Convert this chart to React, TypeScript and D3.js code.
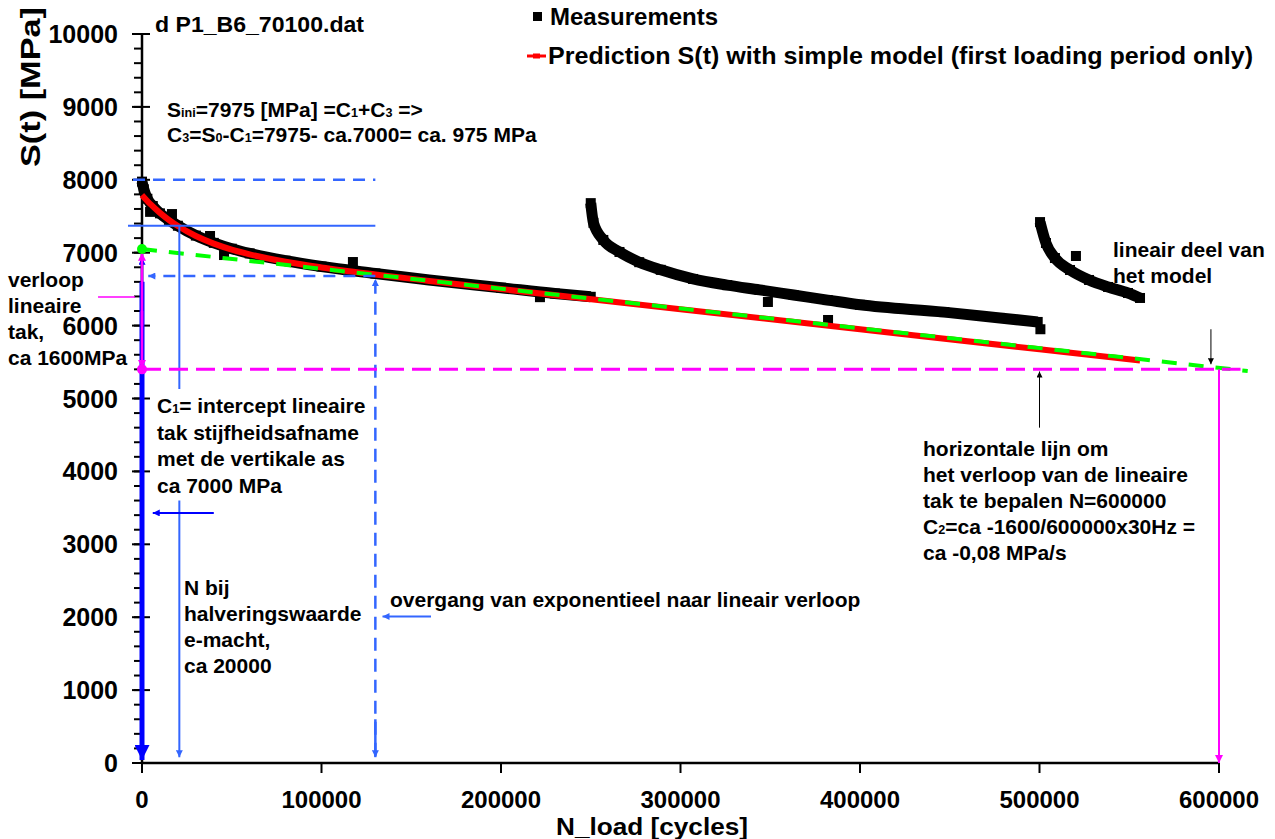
import React from 'react';
import * as d3 from 'd3';

const W = 1275;
const H = 839;
const FONT = '"Liberation Sans", Arial, sans-serif';

// measurements, first loading period (N_load, S)
const period1N = [0, 1000, 3000, 6000, 10000, 15000, 20000, 30000, 40000, 50000, 60000, 80000, 100000, 130000, 160000, 200000, 230000, 250000];
const period1S = [7975, 7870, 7740, 7640, 7540, 7450, 7370, 7235, 7135, 7055, 6990, 6890, 6810, 6715, 6625, 6520, 6440, 6395];

// second loading period
const period2N = [250000, 251500, 257000, 266000, 277000, 289000, 307000, 326000, 344000, 363000, 382000, 400000, 447000, 478000, 499000];
const period2S = [7680, 7410, 7175, 7010, 6870, 6765, 6640, 6555, 6490, 6420, 6350, 6285, 6185, 6105, 6050];

// third loading period
const period3N = [500300, 503600, 508600, 517000, 527600, 538200, 549300, 556000];
const period3S = [7420, 7133, 6927, 6763, 6626, 6530, 6447, 6379];

// loose measurement points off the main band
const outlierN = [4500, 16700, 37900, 45700, 117500, 221700, 348700, 382200, 500500, 520300];
const outlierS = [7560, 7530, 7229, 6968, 6872, 6390, 6324, 6077, 5950, 6955];

// prediction with simple model (first loading period only)
const modelN = [0, 5000, 10000, 15000, 20000, 30000, 40000, 50000, 60000, 80000, 100000, 130000, 160000, 200000, 300000, 400000, 500000, 556000];
const modelS = [7790, 7658, 7546, 7449, 7365, 7229, 7125, 7043, 6978, 6876, 6798, 6701, 6613, 6501, 6225, 5950, 5675, 5520];

// linear part of the model
const linearN = [0, 616000];
const linearS = [7050, 5377];

const xTickValues = [0, 100000, 200000, 300000, 400000, 500000, 600000];
const xTickLabels = ['0', '100000', '200000', '300000', '400000', '500000', '600000'];
const yTickValues = [0, 1000, 2000, 3000, 4000, 5000, 6000, 7000, 8000, 9000, 10000];
const yTickLabels = ['0', '1000', '2000', '3000', '4000', '5000', '6000', '7000', '8000', '9000', '10000'];
const yMinorTicks = d3.range(0, 10001, 200);

const x = d3.scaleLinear().domain([0, 600000]).range([142, 1219]);
const y = d3.scaleLinear().domain([0, 10000]).range([763, 34]);

const zip = (a: number[], b: number[]) => a.map((v, i) => [v, b[i]] as [number, number]);

const curve = d3.line<[number, number]>()
    .x(d => x(d[0]))
    .y(d => y(d[1]))
    .curve(d3.curveMonotoneX);

type Seg = string | string[];

function Rich({ segs, tx, ty, size = 21 }: { segs: Seg[], tx: number, ty: number, size?: number }) {
    return (
        <text x={tx} y={ty} fontSize={size} fontWeight="bold" fontFamily={FONT} style={{ whiteSpace: 'pre' }}>
            {segs.map((s, i) => typeof s === 'string'
                ? <tspan key={i}>{s}</tspan>
                : <tspan key={i} fontSize={size * 0.6}>{s[0]}</tspan>)}
        </text>
    );
}

function Arrow({ n1, s1, n2, s2, color, width, marker, dash }:
    { n1: number, s1: number, n2: number, s2: number, color: string, width: number, marker?: string, dash?: string }) {
    return (
        <line x1={x(n1)} y1={y(s1)} x2={x(n2)} y2={y(s2)}
            stroke={color} strokeWidth={width} strokeDasharray={dash}
            markerEnd={marker ? `url(#${marker})` : undefined} />
    );
}

function Marker({ id, color, len, wid }: { id: string, color: string, len: number, wid: number }) {
    return (
        <marker id={id} viewBox="0 0 10 10" refX="10" refY="5" markerWidth={len} markerHeight={wid}
            markerUnits="userSpaceOnUse" orient="auto">
            <path d="M0,0 L10,5 L0,10 z" fill={color} />
        </marker>
    );
}

export default function App() {
    const periods = [zip(period1N, period1S), zip(period2N, period2S), zip(period3N, period3S)];
    const outliers = zip(outlierN, outlierS);
    const model = zip(modelN, modelS);
    const linear = zip(linearN, linearS);

    const BLUE = '#3366FF';
    const DBLUE = '#0000FF';
    const MAG = '#FF00FF';

    return (
        <svg width={W} height={H} style={{ position: 'absolute', left: 0, top: 0, background: '#fff' }}>
            <defs>
                <Marker id="bigBlue" color={DBLUE} len={18} wid={15} />
                <Marker id="blue" color={BLUE} len={9} wid={7} />
                <Marker id="dblue" color={DBLUE} len={9} wid={7} />
                <Marker id="mag" color={MAG} len={10} wid={8} />
                <Marker id="blk" color="#000" len={9} wid={6} />
            </defs>

            {/* axes */}
            <line x1={x(0)} y1={y(10000)} x2={x(0)} y2={y(0)} stroke="#000" strokeWidth={2.5} />
            <line x1={x(0)} y1={y(0)} x2={x(600000)} y2={y(0)} stroke="#000" strokeWidth={2.5} />
            {yMinorTicks.map(v => (
                <line key={'m' + v} x1={x(0) - 8} x2={x(0)} y1={y(v)} y2={y(v)} stroke="#000" strokeWidth={2} />
            ))}
            {yTickValues.map((v, i) => (
                <g key={'y' + v}>
                    <line x1={x(0) - 10} x2={x(0) + 8} y1={y(v)} y2={y(v)} stroke="#000" strokeWidth={2} />
                    <text x={118} y={y(v) + 9} textAnchor="end" fontSize={25} fontWeight="bold" fontFamily={FONT}>{yTickLabels[i]}</text>
                </g>
            ))}
            {xTickValues.map((v, i) => (
                <g key={'x' + v}>
                    <line x1={x(v)} x2={x(v)} y1={y(0)} y2={y(0) + 10} stroke="#000" strokeWidth={2} />
                    <text x={x(v)} y={808} textAnchor="middle" fontSize={24} fontWeight="bold" fontFamily={FONT}>{xTickLabels[i]}</text>
                </g>
            ))}
            <text x={556} y={835} fontSize={23} fontWeight="bold" fontFamily={FONT} textLength={192} lengthAdjust="spacingAndGlyphs">N_load [cycles]</text>
            <text transform="translate(40,87) rotate(-90)" textAnchor="middle" fontSize={28} fontWeight="bold" fontFamily={FONT}
                textLength={160} lengthAdjust="spacingAndGlyphs">S(t) [MPa]</text>
            <text x={155} y={32} fontSize={22} fontWeight="bold" fontFamily={FONT} textLength={209} lengthAdjust="spacingAndGlyphs">d P1_B6_70100.dat</text>

            {/* legend */}
            <rect x={533} y={12} width={9} height={9} fill="#000" />
            <text x={550} y={25} fontSize={24} fontWeight="bold" fontFamily={FONT}>Measurements</text>
            <line x1={527} x2={546} y1={56} y2={56} stroke="#FF0000" strokeWidth={3} />
            <rect x={533} y={53.5} width={7} height={5} fill="#FF0000" />
            <text x={548} y={64} fontSize={24} fontWeight="bold" fontFamily={FONT} textLength={705} lengthAdjust="spacingAndGlyphs">Prediction S(t) with simple model (first loading period only)</text>

            {/* measurements */}
            {periods.map((p, i) => (
                <g key={'p' + i}>
                    <path d={curve(p) || ''} fill="none" stroke="#000" strokeWidth={11} />
                    {p.map((d, j) => (
                        <rect key={j} x={x(d[0]) - 5} y={y(d[1]) - 5} width={10} height={10} fill="#000" />
                    ))}
                </g>
            ))}
            {outliers.map((d, j) => (
                <rect key={'o' + j} x={x(d[0]) - 5} y={y(d[1]) - 5} width={10} height={10} fill="#000" />
            ))}

            {/* model */}
            <path d={curve(model) || ''} fill="none" stroke="#FF0000" strokeWidth={6} />
            <path d={curve(linear) || ''} fill="none" stroke="#00FF00" strokeWidth={4} strokeDasharray="15,12" />

            {/* annotation lines */}
            <Arrow n1={-5000} s1={8000} n2={130000} s2={8000} color={BLUE} width={2.5} dash="12,8" />
            <Arrow n1={-7800} s1={7370} n2={130000} s2={7370} color={BLUE} width={2} />
            <Arrow n1={130000} s1={6680} n2={3500} s2={6680} color={BLUE} width={2.5} dash="12,8" marker="blue" />
            <Arrow n1={130000} s1={100} n2={130000} s2={6640} color={BLUE} width={2.5} dash="13,8" marker="blue" />
            <Arrow n1={130000} s1={600} n2={130000} s2={80} color={BLUE} width={2.5} marker="blue" />
            <Arrow n1={20800} s1={7370} n2={20800} s2={5130} color={BLUE} width={2} />
            <Arrow n1={20800} s1={3600} n2={20800} s2={80} color={BLUE} width={2} marker="blue" />
            <Arrow n1={40000} s1={3430} n2={6000} s2={3430} color={DBLUE} width={2} marker="dblue" />
            <Arrow n1={161000} s1={2010} n2={134000} s2={2010} color={BLUE} width={2} marker="blue" />

            <Arrow n1={0} s1={6600} n2={0} s2={40} color={DBLUE} width={5} marker="bigBlue" />
            <Arrow n1={0} s1={6500} n2={0} s2={6930} color={DBLUE} width={2.5} marker="dblue" />
            <Arrow n1={0} s1={5400} n2={612000} s2={5400} color={MAG} width={3} dash="19,8" />
            <Arrow n1={0} s1={6000} n2={0} s2={7000} color={MAG} width={2.5} marker="mag" />
            <Arrow n1={0} s1={6200} n2={0} s2={5420} color={MAG} width={2.5} marker="mag" />
            <Arrow n1={600000} s1={5400} n2={600000} s2={0} color={MAG} width={2} marker="mag" />
            <Arrow n1={-24500} s1={6392} n2={-3900} s2={6392} color={MAG} width={1.5} />
            <circle cx={x(0)} cy={y(7050)} r={5} fill="#00FF00" />
            <circle cx={x(0)} cy={y(5400)} r={5} fill={MAG} />

            <Arrow n1={595500} s1={5950} n2={595500} s2={5470} color="#000" width={1} marker="blk" />
            <Arrow n1={500000} s1={4600} n2={500000} s2={5370} color="#000" width={1} marker="blk" />

            {/* annotation texts */}
            <Rich tx={167} ty={117} segs={['S', ['ini'], '=7975 [MPa] =C', ['1'], '+C', ['3'], ' =>']} />
            <Rich tx={167} ty={142} segs={['C', ['3'], '=S', ['0'], '-C', ['1'], '=7975- ca.7000= ca. 975 MPa']} />

            <Rich tx={8} ty={287} segs={['verloop']} />
            <Rich tx={8} ty={313} segs={['lineaire']} />
            <Rich tx={8} ty={339} segs={['tak,']} />
            <Rich tx={8} ty={365} segs={['ca 1600MPa']} />

            <Rich tx={157} ty={413} segs={['C', ['1'], '= intercept lineaire']} />
            <Rich tx={157} ty={439.5} segs={['tak stijfheidsafname']} />
            <Rich tx={157} ty={466} segs={['met de vertikale as']} />
            <Rich tx={157} ty={492.5} segs={['ca 7000 MPa']} />

            <Rich tx={184} ty={595} segs={['N bij']} />
            <Rich tx={184} ty={621} segs={['halveringswaarde']} />
            <Rich tx={184} ty={647} segs={['e-macht,']} />
            <Rich tx={184} ty={673} segs={['ca 20000']} />

            <Rich tx={390} ty={607} segs={['overgang van exponentieel naar lineair verloop']} />

            <Rich tx={1113} ty={257} segs={['lineair deel van']} />
            <Rich tx={1113} ty={283} segs={['het model']} />

            <Rich tx={923} ty={456} segs={['horizontale lijn om']} />
            <Rich tx={923} ty={482} segs={['het verloop van de lineaire']} />
            <Rich tx={923} ty={508} segs={['tak te bepalen N=600000']} />
            <Rich tx={923} ty={534} segs={['C', ['2'], '=ca -1600/600000x30Hz =']} />
            <Rich tx={923} ty={560} segs={['ca -0,08 MPa/s']} />
        </svg>
    );
}
